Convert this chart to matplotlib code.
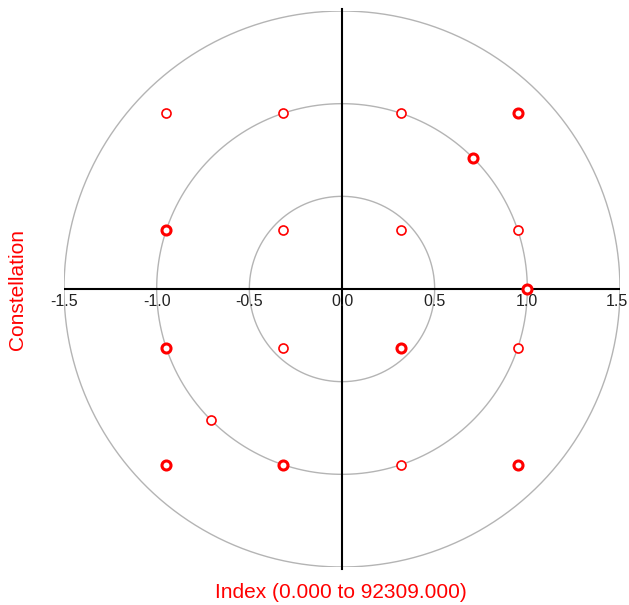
import numpy as np
import matplotlib.pyplot as plt

plt.rcParams['font.family'] = ['Liberation Sans', 'DejaVu Sans']

# Received symbols (in-phase / quadrature) and how many times each was hit
i_vals = [-0.949, -0.316, 0.316, 0.949,
          -0.949, -0.316, 0.316, 0.949,
          -0.949, -0.316, 0.316, 0.949,
          -0.949, -0.316, 0.316, 0.949,
          0.707, -0.707, 1.0]
q_vals = [0.949, 0.949, 0.949, 0.949,
          0.316, 0.316, 0.316, 0.316,
          -0.316, -0.316, -0.316, -0.316,
          -0.949, -0.949, -0.949, -0.949,
          0.707, -0.707, 0.0]
hits = [1, 1, 1, 3,
        3, 1, 1, 1,
        3, 1, 3, 1,
        3, 3, 1, 3,
        3, 1, 3]

ring_radii = [0.5, 1.0, 1.5]
tick_vals = [-1.5, -1.0, -0.5, 0.0, 0.5, 1.0, 1.5]
x_title = 'Index (0.000 to 92309.000)'
y_title = 'Constellation'

fig = plt.figure(figsize=(6.29, 6.05), dpi=100)
ax = fig.add_axes([64 / 629, 38 / 605, 556 / 629, 556 / 605])
ax.set_xlim(-1.5, 1.5)
ax.set_ylim(-1.5, 1.5)
ax.axis('off')

# reference rings
theta = np.linspace(0, 2 * np.pi, 400)
for r in ring_radii:
    ax.plot(r * np.cos(theta), r * np.sin(theta), color='#b4b4b4', lw=1.0, zorder=1)

# axes through the origin
ax.plot([-1.5, 1.5], [0, 0], color='black', lw=1.5, zorder=2)
ax.plot([0, 0], [-1.51, 1.51], color='black', lw=1.5, zorder=2, clip_on=False)

for t in tick_vals:
    # last label would run off the right edge, so pin it there
    if t == tick_vals[-1]:
        ax.text(t + 0.045, -0.025, f'{t:.1f}', ha='right', va='top', fontsize=11.5,
                color='#222222', zorder=3, clip_on=False)
    else:
        ax.text(t, -0.025, f'{t:.1f}', ha='center', va='top', fontsize=11.5,
                color='#222222', zorder=3, clip_on=False)

# symbols, heavier outline where several landed on the same spot
for x, y, n in zip(i_vals, q_vals, hits):
    ax.plot(x, y, 'o', ms=6.5, mfc='white', mec='#ff0000',
            mew=1.2 if n == 1 else 2.2, zorder=4)

fig.text(341 / 629, 1 - 593 / 605, x_title, ha='center', va='center',
         color='#ff0000', fontsize=15)
fig.text(18 / 629, 1 - 290 / 605, y_title, ha='center', va='center',
         rotation=90, color='#ff0000', fontsize=15)

plt.savefig('out.png', dpi=100)
